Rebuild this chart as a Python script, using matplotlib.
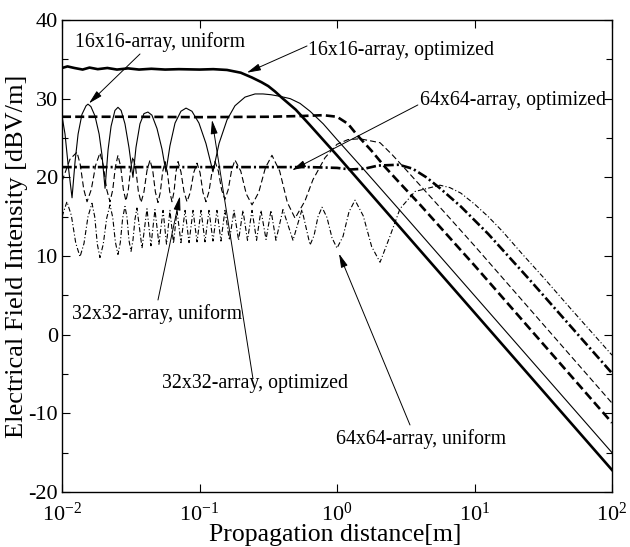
import numpy as np
import matplotlib
matplotlib.use("Agg")
import matplotlib.pyplot as plt
from matplotlib.ticker import MultipleLocator, NullLocator, FixedLocator

plt.rcParams['font.family'] = ['Liberation Serif', 'DejaVu Serif']
plt.rcParams['mathtext.fontset'] = 'custom'
plt.rcParams['mathtext.rm'] = 'Liberation Serif'
plt.rcParams['mathtext.it'] = 'Liberation Serif:italic'
plt.rcParams['mathtext.bf'] = 'Liberation Serif:bold'
plt.rcParams['axes.unicode_minus'] = False
plt.rcParams['lines.scale_dashes'] = False

# ---------------- data ----------------
# distances are given as log10(z [m]); intensities in dBV/m

# 16x16-array, optimized (thick solid)
logz_16o = [-2.00, -1.96, -1.91, -1.85, -1.80, -1.74, -1.67, -1.60, -1.52, -1.44,
            -1.35, -1.25, -1.15, -1.00, -0.90, -0.80, -0.70, -0.62, -0.55, -0.50,
            -0.45, -0.40, -0.30, -0.20, 0.00, 2.00]
db_16o = [33.9, 34.1, 33.9, 33.7, 33.95, 33.75, 33.9, 33.7, 33.85, 33.7,
          33.8, 33.7, 33.75, 33.7, 33.75, 33.65, 33.3, 32.7, 32.1, 31.6,
          30.9, 30.1, 28.6, 26.7, 22.8, -17.2]

# 16x16-array, uniform (thin solid)
logz_16u = [-2.000, -1.978, -1.955, -1.927, -1.905, -1.883, -1.855, -1.825, -1.811, -1.790,
            -1.760, -1.730, -1.709, -1.687, -1.665, -1.643, -1.615, -1.593, -1.570, -1.542,
            -1.513, -1.484, -1.462, -1.433, -1.404, -1.375, -1.346, -1.309, -1.273, -1.244,
            -1.215, -1.178, -1.135, -1.098, -1.055, -1.004, -0.953, -0.902, -0.858, -0.800,
            -0.742, -0.669, -0.596, -0.538, -0.480, -0.415, -0.340, -0.269, -0.196, -0.100,
            0.000, 0.200, 0.500, 2.000]
db_16u = [27.8, 25.5, 21.5, 17.4, 22.0, 25.5, 28.0, 29.1, 29.3, 29.0,
          27.8, 25.5, 22.8, 18.6, 23.5, 26.5, 28.5, 28.9, 28.5, 26.8,
          23.8, 20.0, 23.8, 26.8, 28.1, 28.3, 27.9, 26.2, 23.6, 20.7,
          24.0, 26.9, 28.4, 28.8, 28.4, 26.9, 24.3, 20.7, 24.3, 27.3,
          29.1, 30.2, 30.6, 30.6, 30.5, 30.3, 30.0, 29.4, 28.4, 26.8,
          24.8, 20.9, 14.95, -15.0]

# 32x32-array, optimized (thick dashed)
logz_32o = [-2.00, -1.50, -1.00, -0.50, -0.25, -0.10, 0.00, 0.08, 0.15, 0.25,
            0.35, 0.45, 0.60, 0.80, 1.00, 2.00]
db_32o = [27.7, 27.7, 27.65, 27.7, 27.8, 27.9, 27.7, 26.8, 25.3, 23.4,
          21.3, 19.4, 16.6, 12.7, 8.8, -11.2]

# 32x32-array, uniform (thin dashed)
logz_32u = [-2.000, -1.942, -1.891, -1.867, -1.842, -1.818, -1.787, -1.755, -1.724, -1.700,
            -1.675, -1.651, -1.631, -1.612, -1.593, -1.573, -1.554, -1.535, -1.518, -1.500,
            -1.484, -1.464, -1.445, -1.425, -1.404, -1.382, -1.360, -1.340, -1.321, -1.302,
            -1.285, -1.268, -1.251, -1.234, -1.217, -1.200, -1.185, -1.171, -1.156, -1.135,
            -1.113, -1.091, -1.067, -1.042, -1.018, -0.996, -0.975, -0.953, -0.931, -0.909,
            -0.887, -0.863, -0.839, -0.815, -0.791, -0.766, -0.742, -0.700, -0.660, -0.618,
            -0.569, -0.521, -0.473, -0.417, -0.361, -0.305, -0.233, -0.175, -0.087, 0.000,
            0.080, 0.167, 0.313, 0.400, 0.500, 0.650, 0.800, 1.000, 2.000]
db_32u = [19.5, 22.3, 23.2, 21.6, 18.5, 16.9, 18.45, 21.55, 23.1, 21.55,
          18.45, 16.9, 18.4, 21.3, 22.8, 21.35, 18.45, 17.0, 18.4, 21.2,
          22.6, 21.15, 18.25, 16.8, 18.15, 20.85, 22.2, 20.85, 18.15, 16.8,
          18.1, 20.7, 22.0, 20.7, 18.2, 16.9, 18.2, 20.7, 22.0, 20.7,
          18.2, 16.9, 18.1, 20.6, 21.8, 20.6, 18.1, 16.9, 18.2, 20.7,
          22.0, 20.8, 18.4, 17.2, 18.45, 20.95, 22.2, 20.8, 17.9, 16.5,
          18.1, 21.2, 22.8, 20.8, 16.8, 14.8, 17.0, 19.7, 22.5, 24.2,
          24.8, 24.9, 24.4, 22.9, 21.0, 18.1, 15.2, 11.3, -8.7]

# 64x64-array, optimized (thick dash-dot)
logz_64o = [-2.00, -1.50, -1.00, -0.50, -0.20, 0.00, 0.10, 0.20, 0.30, 0.45,
            0.55, 0.65, 0.75, 0.90, 1.10, 1.40, 2.00]
db_64o = [21.3, 21.3, 21.3, 21.3, 21.3, 21.2, 21.0, 21.1, 21.5, 21.6,
          21.1, 20.0, 18.6, 16.3, 12.8, 7.0, -4.9]

# 64x64-array, uniform (thin dash-dot)
logz_64u = [-2.000, -1.964, -1.932, -1.900, -1.869, -1.840, -1.811, -1.782, -1.762, -1.743,
            -1.724, -1.700, -1.675, -1.651, -1.631, -1.612, -1.593, -1.576, -1.559, -1.542,
            -1.527, -1.513, -1.498, -1.484, -1.469, -1.455, -1.436, -1.418, -1.400, -1.382,
            -1.353, -1.324, -1.295, -1.265, -1.240, -1.215, -1.189, -1.164, -1.135, -1.105,
            -1.076, -1.047, -1.018, -0.989, -0.960, -0.931, -0.902, -0.873, -0.844, -0.815,
            -0.782, -0.749, -0.716, -0.684, -0.651, -0.618, -0.585, -0.553, -0.516, -0.480,
            -0.444, -0.393, -0.320, -0.255, -0.196, -0.167, -0.138, -0.109, -0.073, -0.036,
            0.000, 0.044, 0.087, 0.131, 0.191, 0.252, 0.313, 0.385, 0.458, 0.567,
            0.749, 0.820, 0.900, 1.000, 1.100, 1.200, 1.350, 1.500, 1.700, 2.000]
db_64u = [15.0, 16.9, 15.15, 11.65, 9.9, 11.6, 15.0, 16.7, 15.0, 11.5,
          9.8, 11.5, 14.8, 16.5, 14.9, 11.8, 10.2, 11.7, 14.8, 16.3,
          14.9, 12.0, 10.6, 12.0, 14.7, 16.1, 13.5, 11.0, 13.5, 16.0,
          11.3, 15.9, 11.5, 15.8, 11.5, 15.8, 11.6, 15.8, 11.7, 15.8,
          11.7, 15.8, 11.8, 15.8, 11.8, 15.8, 11.9, 15.8, 11.9, 15.8,
          12.0, 15.8, 12.0, 15.8, 12.0, 15.8, 12.0, 15.8, 12.1, 15.8,
          12.0, 15.9, 12.0, 15.9, 11.4, 12.6, 15.0, 16.2, 14.9, 12.3,
          11.0, 12.5, 15.6, 17.1, 15.1, 11.2, 9.2, 12.5, 16.0, 18.2,
          19.0, 18.7, 18.0, 16.6, 15.0, 13.2, 10.2, 7.3, 3.3, -2.6]

x_ticks = [1e-2, 1e-1, 1e0, 1e1, 1e2]
y_limits = (-20, 40)

# annotation labels
labels = ["16x16-array, uniform", "16x16-array, optimized", "64x64-array, optimized",
          "32x32-array, uniform", "32x32-array, optimized", "64x64-array, uniform"]
# arrow tips (data coords: distance [m], dBV/m)
tip_z = [0.0157, 0.221, 0.471, 0.0721, 0.1233, 1.034]
tip_db = [29.4, 33.3, 20.9, 17.6, 27.3, 10.3]

# ---------------- layout ----------------
text_pos = [(0.0236, 0.953), (0.4475, 0.936), (0.651, 0.830),
            (0.018, 0.377), (0.182, 0.229), (0.498, 0.112)]
tail_pos = [(0.1418, 0.928), (0.4455, 0.945), (0.647, 0.820),
            (0.1745, 0.4068), (0.347, 0.2415), (0.6327, 0.142)]

fig = plt.figure(figsize=(6.3, 5.47), dpi=100)
ax = fig.add_axes([62 / 630, 55 / 547, 550 / 630, 472 / 547])

def z(l):
    return 10.0 ** np.asarray(l)

thick = 1.9
thin = 0.8
ax.plot(z(logz_16o), db_16o, color='k', lw=thick, solid_joinstyle='round')
ax.plot(z(logz_16u), db_16u, color='k', lw=thin)
ax.plot(z(logz_32o), db_32o, color='k', lw=thick, dashes=(6.5, 3.0))
ax.plot(z(logz_32u), db_32u, color='k', lw=thin, dashes=(4.3, 2.2))
ax.plot(z(logz_64o), db_64o, color='k', lw=thick, dashes=(7.0, 2.2, 1.5, 2.2))
ax.plot(z(logz_64u), db_64u, color='k', lw=thin, dashes=(3.6, 1.6, 0.8, 1.6))

ax.set_xscale('log')
ax.set_xlim(x_ticks[0], x_ticks[-1])
ax.set_ylim(*y_limits)
ax.xaxis.set_major_locator(FixedLocator(x_ticks))
ax.xaxis.set_minor_locator(NullLocator())
ax.yaxis.set_major_locator(MultipleLocator(10))
ax.yaxis.set_minor_locator(MultipleLocator(5))
ax.tick_params(which='both', direction='in', top=True, right=True,
               labelsize=16, pad=3, width=0.8)
ax.tick_params(axis='x', which='both', pad=7.5, labelsize=16)
ax.tick_params(which='major', length=6)
ax.tick_params(which='minor', length=4.5)
for s in ax.spines.values():
    s.set_linewidth(1.0)

ax.set_ylabel('Electrical Field Intensity [dBV/m]', fontsize=19)
ax.yaxis.set_label_coords(-0.062, 0.5)
ax.set_xlabel('Propagation distance[m]', fontsize=18.5)
ax.xaxis.set_label_coords(0.497, -0.067)

for lab, tp, tl, tz, tdb in zip(labels, text_pos, tail_pos, tip_z, tip_db):
    ax.text(tp[0], tp[1], lab, transform=ax.transAxes, ha='left', va='center',
            fontsize=14.3)
    ax.annotate('', xy=(tz, tdb), xycoords='data', xytext=tl,
                textcoords='axes fraction',
                arrowprops=dict(arrowstyle='-|>,head_length=0.6,head_width=0.15',
                                mutation_scale=14, lw=0.7, color='k',
                                shrinkA=0, shrinkB=0))

fig.savefig('out.png', dpi=100)
